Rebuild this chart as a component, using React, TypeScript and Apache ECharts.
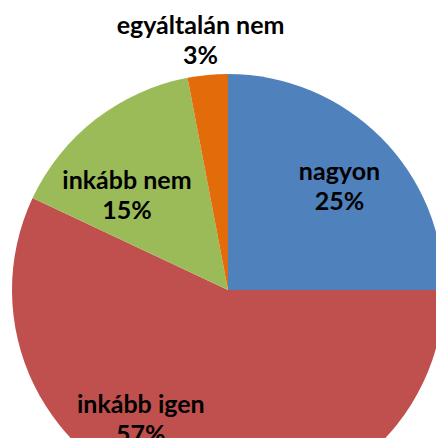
import React, { useEffect, useRef } from "react";
import * as echarts from "echarts";

const categories = ["nagyon", "inkább igen", "inkább nem", "egyáltalán nem"];
const values = [25, 57, 15, 3];
const colors = ["#4F81BD", "#C0504D", "#9BBB59", "#E36C0A"];
// label nudges from the default inside position
const labelShift: [number, number][] = [
  [33, -27],
  [-63, 20],
  [-33, -8],
  [-17, -140],
];

export default function App() {
  const ref = useRef<HTMLDivElement>(null);
  useEffect(() => {
    document.body.style.margin = "0";
    const chart = echarts.init(ref.current!, null, { renderer: "svg" });
    chart.setOption({
      animation: false,
      series: [
        {
          type: "pie",
          center: [228, 290],
          radius: 216,
          startAngle: 90,
          clockwise: true,
          data: categories.map((name, i) => ({
            name,
            value: values[i],
            itemStyle: { color: colors[i] },
          })),
          label: {
            show: true,
            position: "inside",
            formatter: "{b}\n{c}%",
            color: "#000",
            fontFamily: "Lato",
            fontWeight: "bold",
            fontSize: 25,
            lineHeight: 30,
            align: "center",
          },
          labelLine: { show: false },
          labelLayout: (p: any) => ({
            dx: labelShift[p.dataIndex][0],
            dy: labelShift[p.dataIndex][1],
          }),
          emphasis: { disabled: true },
        },
      ],
    });
    return () => chart.dispose();
  }, []);
  return <div ref={ref} style={{ width: 436, height: 438 }} />;
}
